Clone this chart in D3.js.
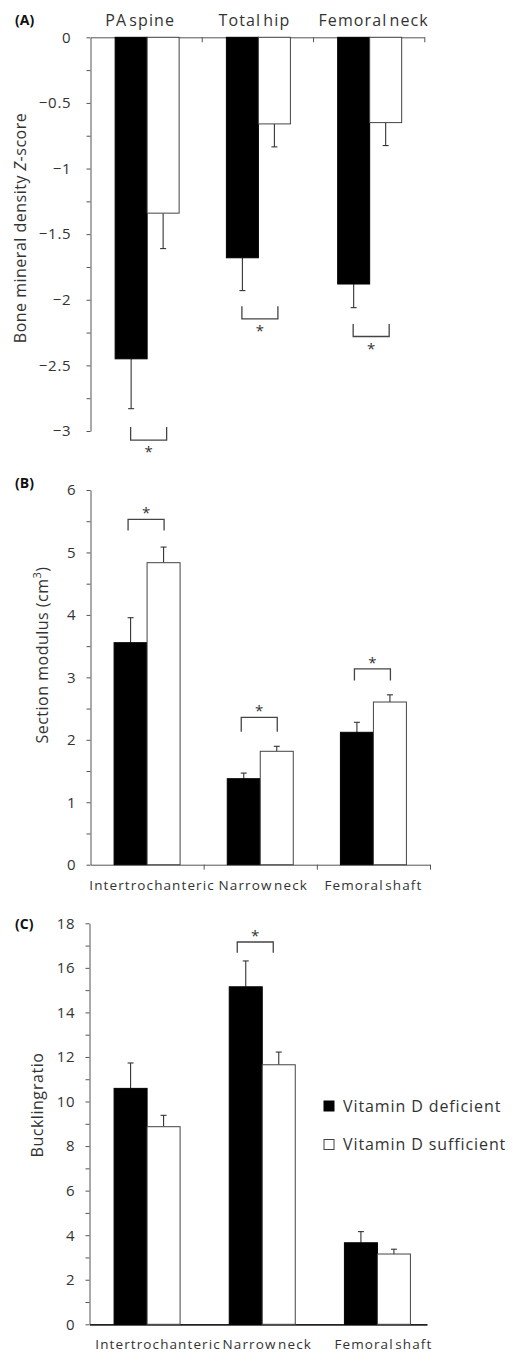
<!DOCTYPE html>
<html>
<head>
<meta charset="utf-8">
<script src="https://cdn.jsdelivr.net/npm/d3@7"></script>
<style>
  body { margin: 0; background: #fff; }
  svg { display: block; font-family: "Open Sans", Lato, sans-serif; }
</style>
</head>
<body>
<div id="chart"></div>
<script>
var svgWidth = 515;
var svgHeight = 1353;

var seriesNames = ["Vitamin D deficient", "Vitamin D sufficient"];

// (A) bone mineral density Z-score
var bmdSites = ["PA spine", "Total hip", "Femoral neck"];
var bmdDeficient = [-2.45, -1.68, -1.88];
var bmdDeficientErr = [0.38, 0.25, 0.18];
var bmdSufficient = [-1.34, -0.66, -0.65];
var bmdSufficientErr = [0.27, 0.175, 0.175];
var bmdTicks = [0, -0.5, -1, -1.5, -2, -2.5, -3];
// significance brackets: [leg end, bracket line]
var bmdBrackets = [[-2.97, -3.07], [-2.05, -2.145], [-2.185, -2.28]];

// (B) section modulus
var hsaSites = ["Intertrochanteric", "Narrow neck", "Femoral shaft"];
var modDeficient = [3.555, 1.377, 2.12];
var modDeficientErr = [0.40, 0.09, 0.16];
var modSufficient = [4.836, 1.816, 2.605];
var modSufficientErr = [0.25, 0.08, 0.115];
var modTicks = [0, 1, 2, 3, 4, 5, 6];
var modBrackets = [[5.35, 5.53], [2.13, 2.36], [2.95, 3.135]];

// (C) buckling ratio
var buckDeficient = [10.59, 15.15, 3.66];
var buckDeficientErr = [1.14, 1.16, 0.50];
var buckSufficient = [8.87, 11.65, 3.155];
var buckSufficientErr = [0.51, 0.57, 0.215];
var buckTicks = [0, 2, 4, 6, 8, 10, 12, 14, 16, 18];
var buckBrackets = [null, [16.68, 17.16], null];

var svg = d3.select("#chart").append("svg")
  .attr("width", svgWidth)
  .attr("height", svgHeight);

function drawPanel(cfg) {
  var g = svg.append("g");

  var y = d3.scaleLinear().domain(cfg.yDomain).range(cfg.yRange);
  var x = d3.scaleBand().domain(cfg.cats).range(cfg.xRange);
  var edges = d3.scaleLinear().domain([0, cfg.cats.length]).range(cfg.axisRange);

  var minor = d3.range(cfg.yDomain[0], cfg.yDomain[1] + cfg.minorStep / 2, cfg.minorStep);
  var fmt = d3.format("~g");

  // y axis
  var yAxis = g.append("g")
    .attr("transform", `translate(${cfg.axisRange[0]},0)`)
    .call(d3.axisLeft(y)
      .tickValues(minor)
      .tickSize(4)
      .tickSizeOuter(0)
      .tickPadding(cfg.tickPad)
      .tickFormat(d => cfg.ticks.some(t => Math.abs(t - d) < 1e-9) ? fmt(d) : ""));
  yAxis.select(".domain").attr("stroke", "#555");
  yAxis.selectAll(".tick line").attr("stroke", "#555");
  yAxis.selectAll(".tick text")
    .attr("fill", "#333")
    .attr("font-family", "'Open Sans', sans-serif")
    .attr("font-size", "15px")
    .attr("letter-spacing", "0.8px");

  // x axis line (at zero)
  var xAxis = g.append("g")
    .attr("transform", `translate(0,${y(0)})`)
    .call(d3.axisBottom(edges)
      .tickValues(cfg.catTicks ? d3.range(1, cfg.cats.length + 1) : [])
      .tickSize(5)
      .tickSizeOuter(0)
      .tickFormat(""));
  xAxis.select(".domain").attr("stroke", cfg.xAxisColor).attr("stroke-width", cfg.xAxisWidth);
  xAxis.selectAll(".tick line").attr("stroke", "#555");

  var barW = cfg.barW;
  function cx(i) { return x(cfg.cats[i]) + x.bandwidth() / 2 + cfg.barShift; }

  var series = [
    { vals: cfg.def, errs: cfg.defErr, fill: "#000", off: -barW },
    { vals: cfg.suf, errs: cfg.sufErr, fill: "#fff", off: 0 }
  ];

  series.forEach(function (s) {
    var rows = s.vals.map((v, i) => ({ v: v, e: s.errs[i], i: i }));

    // error bars (one-sided, away from zero)
    var err = g.append("g").selectAll("g")
      .data(rows)
      .enter()
      .append("g")
      .attr("stroke", "#333")
      .attr("stroke-width", 1.1);
    err.append("line")
      .attr("x1", d => cx(d.i) + s.off + barW / 2)
      .attr("x2", d => cx(d.i) + s.off + barW / 2)
      .attr("y1", d => y(d.v))
      .attr("y2", d => y(d.v + Math.sign(d.v) * d.e));
    err.append("line")
      .attr("x1", d => cx(d.i) + s.off + barW / 2 - 3)
      .attr("x2", d => cx(d.i) + s.off + barW / 2 + 3)
      .attr("y1", d => y(d.v + Math.sign(d.v) * d.e))
      .attr("y2", d => y(d.v + Math.sign(d.v) * d.e));

    g.append("g").selectAll("rect")
      .data(rows)
      .enter()
      .append("rect")
      .attr("x", d => cx(d.i) + s.off)
      .attr("width", barW)
      .attr("y", d => y(Math.max(0, d.v)))
      .attr("height", d => Math.abs(y(d.v) - y(0)))
      .attr("fill", s.fill)
      .attr("stroke", s.fill == "#000" ? "#000" : "#444")
      .attr("stroke-width", 1);
  });

  // significance brackets
  cfg.brackets.forEach(function (b, i) {
    if (!b) return;
    var c = cx(i) + cfg.bracketShift;
    var yl = y(b[0]), yb = y(b[1]);
    g.append("path")
      .attr("d", `M${c - 18},${yl}V${yb}H${c + 18}V${yl}`)
      .attr("fill", "none")
      .attr("stroke", "#444")
      .attr("stroke-width", 1.3);
    var dir = yb > yl ? 1 : -1;
    g.append("text")
      .attr("x", c)
      .attr("y", yb + dir * 9 + 8)
      .attr("text-anchor", "middle")
      .attr("font-size", "15px")
      .attr("fill", "#333")
      .text("*");
  });

  // category labels
  g.append("g").selectAll("text")
    .data(cfg.cats)
    .enter()
    .append("text")
    .attr("x", (d, i) => cx(i) + cfg.labelShift[i])
    .attr("y", cfg.labelY)
    .attr("text-anchor", "middle")
    .attr("font-size", cfg.labelSize)
    .attr("letter-spacing", "1.1px")
    .attr("word-spacing", "-3px")
    .attr("fill", "#333")
    .text(d => d);

  // y title
  var title = g.append("text")
    .attr("transform", `translate(${cfg.titleX},${cfg.titleY}) rotate(-90)`)
    .attr("text-anchor", "middle")
    .attr("font-size", "16px")
    .attr("letter-spacing", "0.5px")
    .attr("fill", "#333");
  cfg.title(title);

  // panel tag
  g.append("text")
    .attr("x", 15)
    .attr("y", cfg.tagY)
    .attr("font-size", "14px")
    .attr("font-weight", "bold")
    .attr("fill", "#111")
    .text(cfg.tag);

  return g;
}

drawPanel({
  cats: bmdSites, def: bmdDeficient, defErr: bmdDeficientErr,
  suf: bmdSufficient, sufErr: bmdSufficientErr,
  yDomain: [-3, 0], yRange: [431, 37.3], ticks: bmdTicks, minorStep: 0.25, tickPad: 15,
  xRange: [90.5, 424.3], axisRange: [90.5, 424.3], catTicks: true,
  xAxisColor: "#555", xAxisWidth: 1,
  barW: 32, barShift: 1, bracketShift: 1.5,
  brackets: bmdBrackets,
  labelY: 26, labelSize: "16px", labelShift: [-7, -4, 4],
  titleX: 26, titleY: 228,
  title: function (t) {
    t.append("tspan").text("Bone mineral density ");
    t.append("tspan").attr("font-style", "italic").text("Z");
    t.append("tspan").text("-score");
  },
  tag: "(A)", tagY: 25
});

drawPanel({
  cats: hsaSites, def: modDeficient, defErr: modDeficientErr,
  suf: modSufficient, sufErr: modSufficientErr,
  yDomain: [0, 6], yRange: [864.7, 490], ticks: modTicks, minorStep: 0.5, tickPad: 10,
  xRange: [90.5, 430], axisRange: [90.5, 430], catTicks: true,
  xAxisColor: "#555", xAxisWidth: 1,
  barW: 33, barShift: 0, bracketShift: -1,
  brackets: modBrackets,
  labelY: 890, labelSize: "13.5px", labelShift: [5, 3, 0],
  titleX: 48, titleY: 655,
  title: function (t) {
    t.append("tspan").text("Section modulus (cm");
    t.append("tspan").attr("baseline-shift", "super").attr("font-size", "11px").text("3");
    t.append("tspan").text(")");
  },
  tag: "(B)", tagY: 488
});

var panelC = drawPanel({
  cats: hsaSites, def: buckDeficient, defErr: buckDeficientErr,
  suf: buckSufficient, sufErr: buckSufficientErr,
  yDomain: [0, 18], yRange: [1324.3, 923.3], ticks: buckTicks, minorStep: 1, tickPad: 10,
  xRange: [89.5, 435], axisRange: [89.5, 427], catTicks: false,
  xAxisColor: "#222", xAxisWidth: 1.8,
  barW: 33, barShift: 0, bracketShift: -7,
  brackets: buckBrackets,
  labelY: 1349, labelSize: "13.5px", labelShift: [11, 5, 6],
  titleX: 43, titleY: 1105,
  title: function (t) { t.attr("word-spacing", "-4px").text("Buckling ratio"); },
  tag: "(C)", tagY: 929
});

// legend
var legend = panelC.append("g").selectAll("g")
  .data(seriesNames)
  .enter()
  .append("g")
  .attr("transform", (d, i) => `translate(324,${1101 + i * 38.5})`);
legend.append("rect")
  .attr("width", 10)
  .attr("height", 10)
  .attr("fill", (d, i) => i == 0 ? "#000" : "#fff")
  .attr("stroke", (d, i) => i == 0 ? "#000" : "#444");
legend.append("text")
  .attr("x", 19)
  .attr("y", 5)
  .attr("dy", "0.36em")
  .attr("font-size", "16px")
  .attr("letter-spacing", "0.9px")
  .attr("fill", "#333")
  .text(d => d);
</script>
</body>
</html>
